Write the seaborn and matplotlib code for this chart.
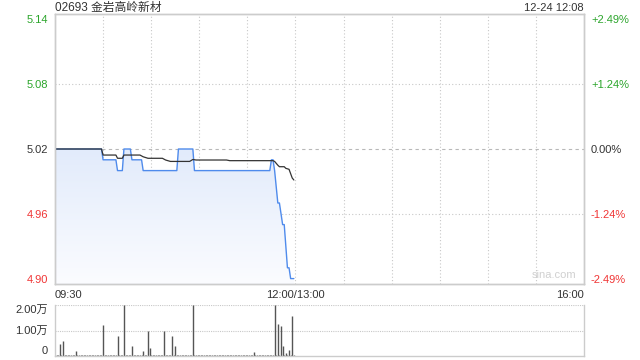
import numpy as np
import matplotlib
matplotlib.use("Agg")
import matplotlib.pyplot as plt
from matplotlib.colors import LinearSegmentedColormap
import seaborn as sns

sns.set_theme(style="white")
plt.rcParams['font.family'] = ['Liberation Sans', 'Noto Sans CJK SC', 'DejaVu Sans']

# ---------------- data ----------------
title_left = "02693 金岩高岭新材"
title_right = "12-24 12:08"
prev_close = 5.02

# price line key points (minute index since 09:30, price)
price_min = [0, 29, 30, 38, 39, 42, 43, 47, 48, 54, 55, 76, 77, 86, 87, 134,
             135, 136, 137, 139, 140, 142, 143, 145, 146, 147, 149]
price_val = [5.02, 5.02, 5.01, 5.01, 5.00, 5.00, 5.02, 5.02, 5.01, 5.01, 5.00,
             5.00, 5.02, 5.02, 5.00, 5.00, 5.01, 5.01, 5.00, 4.97, 4.97, 4.95,
             4.95, 4.91, 4.91, 4.90, 4.90]

# average price line key points
avg_min = [0, 29, 30, 38, 39, 42, 43, 53, 55, 58, 67, 69, 72, 84, 86, 88, 107,
           109, 136, 137, 139, 140, 143, 144, 146, 148, 149]
avg_val = [5.020, 5.020, 5.0144, 5.0144, 5.0114, 5.0114, 5.0144, 5.0144,
           5.0128, 5.0114, 5.0114, 5.0098, 5.0085, 5.0085, 5.0103, 5.0098,
           5.0098, 5.0092, 5.0092, 5.0085, 5.0050, 5.0036, 5.0036, 5.0021,
           5.0012, 4.9931, 4.9913]

# volume per minute, 09:30 .. 11:59
volume = [
    300, 200, 300, 4700, 300, 6000, 300, 200, 300, 300,
    200, 300, 300, 2000, 300, 300, 200, 300, 300, 200,
    300, 300, 200, 300, 300, 200, 300, 300, 300, 200,
    12000, 300, 300, 200, 300, 300, 200, 300, 300, 8000,
    300, 200, 300, 20000, 300, 300, 200, 300, 4000, 300,
    200, 300, 300, 200, 300, 2000, 300, 200, 10000, 3000,
    300, 300, 200, 300, 300, 200, 300, 300, 10000, 300,
    200, 300, 300, 7700, 300, 4000, 300, 300, 200, 300,
    300, 200, 300, 300, 200, 300, 20000, 300, 300, 200,
    300, 400, 300, 200, 300, 300, 400, 300, 300, 200,
    300, 300, 200, 300, 300, 400, 300, 300, 200, 300,
    300, 200, 300, 300, 400, 300, 300, 200, 300, 300,
    200, 300, 300, 300, 1600, 300, 300, 200, 300, 300,
    200, 300, 300, 200, 300, 300, 400, 20000, 300, 12700,
    300, 11600, 4000, 300, 1300, 300, 2400, 300, 15600, 500,
]
vol_min = list(range(len(volume)))

price_ticks = [5.14, 5.08, 5.02, 4.96, 4.90]
pct_labels = ["+2.49%", "+1.24%", "0.00%", "-1.24%", "-2.49%"]
x_tick_pos = [0, 150, 330]
x_tick_labels = ["09:30", "12:00/13:00", "16:00"]
vol_ticks = [0, 10000, 20000]
vol_labels = ["0", "1.00万", "2.00万"]

# ---------------- styling ----------------
GREEN = "#2ba52b"
RED = "#f03535"
DARK = "#333333"
GRID = "#c8c8c8"
BORDER = "#cccccc"
LINE = "#4f8bec"
tick_colors = [GREEN, GREEN, DARK, RED, RED]

fig = plt.figure(figsize=(6.4, 3.6), dpi=100)
ax = fig.add_axes([55/640, (360-284)/360, 529/640, 270/360])
axv = fig.add_axes([55/640, (360-356)/360, 529/640, 51/360])

YMIN, YMAX = 4.895, 5.145
TOTAL = 330

# gradient fill under the price line
poly = ax.fill_between(price_min, price_val, YMIN, color='none', lw=0)
cmap = LinearSegmentedColormap.from_list("g", ["#e2ebfb", "#fbfcff"])
grad = np.linspace(0, 1, 256).reshape(-1, 1)
im = ax.imshow(grad, extent=[0, TOTAL, YMIN, prev_close], aspect='auto',
               cmap=cmap, origin='upper', zorder=1)
im.set_clip_path(poly.get_paths()[0], transform=ax.transData)

# grid
for k in range(1, 11):
    ax.axvline(k * 30, color=GRID, lw=0.8, ls=(0, (1, 2)), zorder=0.5)
for v in [5.08, 4.96]:
    ax.axhline(v, color=GRID, lw=0.8, ls=(0, (1, 2)), zorder=0.5)
ax.axhline(prev_close, color="#b8b8b8", lw=0.8, ls=(0, (3, 3)), zorder=0.5)

sns.lineplot(x=price_min, y=price_val, ax=ax, color=LINE, lw=1.0, zorder=3)
sns.lineplot(x=avg_min, y=avg_val, ax=ax, color=DARK, lw=0.9, zorder=4)

ax.set_xlim(0, TOTAL)
ax.set_ylim(YMIN, YMAX)
ax.set_yticks(price_ticks)
ax.set_yticklabels([f"{t:.2f}" for t in price_ticks], fontsize=8)
for lab, c in zip(ax.get_yticklabels(), tick_colors):
    lab.set_color(c)
ax.tick_params(axis='y', length=0, pad=5)

ax.set_xticks(x_tick_pos)
ax.set_xticklabels(x_tick_labels, fontsize=8, color=DARK)
for lab, ha in zip(ax.get_xticklabels(), ["left", "center", "right"]):
    lab.set_ha(ha)
ax.tick_params(axis='x', length=0, pad=4)

axr = ax.twinx()
axr.set_ylim(YMIN, YMAX)
axr.set_yticks(price_ticks)
axr.set_yticklabels(pct_labels, fontsize=8)
for lab, c in zip(axr.get_yticklabels(), tick_colors):
    lab.set_color(c)
axr.tick_params(axis='y', length=0, pad=5)
for a in (ax, axr):
    for s in a.spines.values():
        s.set_color(BORDER)
        s.set_linewidth(1)
ax.set_xlabel("")
ax.set_ylabel("")

ax.text(0.985, 0.015, "sina.com", transform=ax.transAxes, ha='right',
        va='bottom', fontsize=8, color="#d0d0d0", zorder=5)

fig.text(55/640, 1 - 8/360, title_left, ha='left', va='center',
         fontsize=8.5, color=DARK)
fig.text(584/640, 1 - 8/360, title_right, ha='right', va='center',
         fontsize=8, color=DARK)

# volume panel
axv.vlines(vol_min, 0, volume, color="#555555", lw=1.0)
axv.set_xlim(0, TOTAL)
axv.set_ylim(0, 20000)
for v in [10000, 20000]:
    axv.axhline(v, color=GRID, lw=0.8, ls=(0, (1, 1)), zorder=0)
axv.set_xticks([])
axv.set_yticks(vol_ticks)
axv.set_yticklabels(vol_labels, fontsize=8, color=DARK)
for lab, va in zip(axv.get_yticklabels(), ["bottom", "center", "top"]):
    lab.set_va(va)
axv.tick_params(axis='y', length=0, pad=5)
for name, s in axv.spines.items():
    s.set_color(BORDER)
    s.set_linewidth(1)
axv.spines['top'].set_visible(False)

fig.savefig("out.png", dpi=100)
